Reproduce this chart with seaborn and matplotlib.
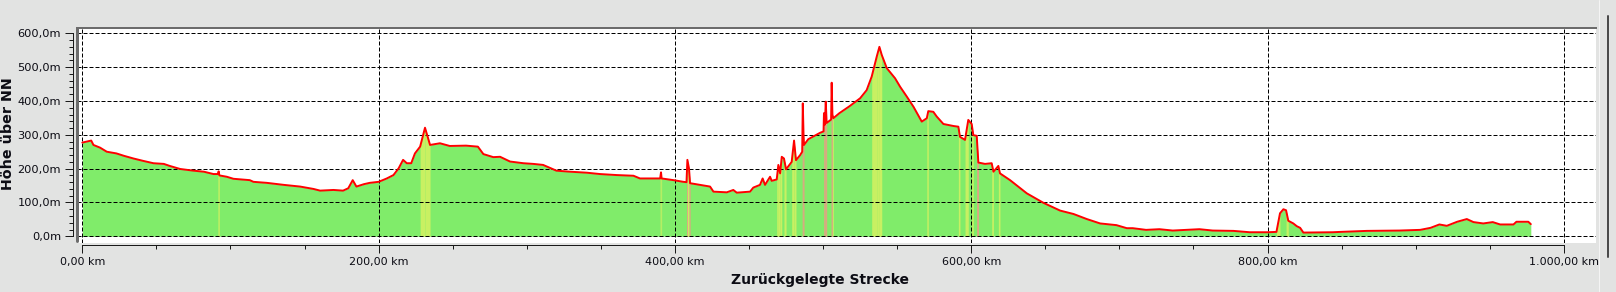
import numpy as np
import pandas as pd
import matplotlib
matplotlib.use("Agg")
import matplotlib.pyplot as plt
import seaborn as sns
from matplotlib.ticker import FixedLocator, MultipleLocator
from matplotlib.lines import Line2D

# ---------------- data ----------------
km = [0, 1, 6, 7.5, 12, 16.5, 23, 28, 34.5, 41, 48, 55, 59, 66, 75, 82, 88.5,
      91.5, 92, 92.5, 97.5, 102, 113, 115.5, 124.5, 136, 147, 156, 160.5,
      169.5, 176, 179.5, 182.5, 185, 190, 194, 200, 205.5, 210, 213.5, 216.5,
      219, 222, 224.5, 228, 231.3, 234.7, 241.4, 248, 259, 267, 270.7, 277.4,
      282, 288.7, 297.7, 304.4, 311, 320, 329, 340.5, 349.4, 360.7, 372,
      376.4, 390, 390.6, 391, 399, 405.7, 407.8, 408.4, 409.5, 410.2, 417,
      423.7, 426, 435, 439.4, 441.7, 450.7, 452.9, 457.4, 459.2, 460.8, 464.2,
      465.3, 468.7, 469.8, 471, 472.1, 473.6, 475, 478.8, 480.4, 481.7, 484.5,
      485.9, 486.3, 486.8, 487.1, 490, 498, 500.3, 500.6, 501.2, 501.8, 502.4,
      503.6, 505.4, 505.8, 506.3, 506.9, 511, 518, 525, 529.4, 532.8, 536.2,
      538, 539.6, 543, 548.6, 552, 556.5, 561, 566.6, 570, 571, 574.4, 576.7,
      581.2, 588, 591.3, 592.4, 595.8, 598, 600.3, 601.4, 603.7, 604.8, 609.3,
      613.8, 615, 618.3, 619.4, 626.2, 637.5, 648.7, 660, 669, 678, 687, 698,
      705, 709, 718, 727, 736, 745, 754, 763, 777, 788, 800, 806, 808.4,
      810.7, 812.5, 814, 817.4, 819.7, 822, 824.2, 844, 849, 867, 889, 903,
      910, 916, 921, 928, 934.5, 939, 945.6, 952, 957, 966, 968, 976, 977.7]

elev = [277, 278, 283, 270, 262, 250, 245, 238, 230, 223, 216, 214, 208, 199,
        194, 191, 184,
        184, 192, 180, 176, 170, 166, 161, 158, 152, 147, 140, 135,
        137, 135, 142, 166, 147, 154, 158, 161, 171, 181, 201, 226,
        216, 216, 245, 265, 321, 270, 275, 267, 268, 265, 243, 234,
        235, 221, 216, 214, 211, 194, 191, 188, 184, 181, 179,
        171, 171, 189, 171, 166, 161, 160, 226, 200, 157, 152,
        147, 132, 130, 137, 129, 132, 144, 152, 171, 152, 176,
        164, 168, 211, 186, 235, 230, 198, 220, 283, 225, 240,
        250, 393, 300, 270, 287, 306, 310, 364, 330, 398, 335,
        339, 345, 454, 360, 349, 364, 385, 408, 432, 472, 531,
        560, 536, 497, 467, 442, 413, 383, 339, 349, 370, 368, 354,
        332, 326, 324, 294, 285, 344, 332, 299, 297, 218, 214,
        216, 191, 208, 186, 166, 127, 99, 76, 66, 51, 38, 33,
        24, 24, 19, 21, 17, 19, 21, 17, 16, 12, 12, 13, 68,
        80, 77, 46, 38, 30, 25, 11, 12, 13, 16, 17, 19,
        25, 35, 31, 43, 51, 42, 38, 42, 35, 35, 43, 43, 36]

x_ticks = [0, 200, 400, 600, 800, 1000]
x_tick_labels = ["0,00 km", "200,00 km", "400,00 km", "600,00 km",
                 "800,00 km", "1.000,00 km"]
y_ticks = [0, 100, 200, 300, 400, 500, 600]
y_tick_labels = ["0,0m", "100,0m", "200,0m", "300,0m", "400,0m", "500,0m",
                 "600,0m"]
x_label = "Zurückgelegte Strecke"
y_label = "Höhe über NN"

# ---------------- style ----------------
sns.set_theme(style="white")
plt.rcParams["font.family"] = ["DejaVu Sans"]

W, H = 1616, 292
PX = 0.72  # points per pixel at 100 dpi
fig = plt.figure(figsize=(W / 100, H / 100), dpi=100, facecolor="#e2e3e2")

L, R, T, B = 77, 1596, 28, 243
ax = fig.add_axes([L / W, (H - B) / H, (R - L) / W, (B - T) / H])
ax.set_facecolor("white")

df = pd.DataFrame({"km": km, "elev": elev})

# area fill
ax.fill_between(df["km"], 0, df["elev"], color="#80ec6a", lw=0, zorder=1)

# slope coloured streaks
kma = np.asarray(km, dtype=float)
ela = np.asarray(elev, dtype=float)
slope = np.abs(np.diff(ela) / np.diff(kma))
for i, s in enumerate(slope):
    if s > 50:
        c = "#ec9c86"
    elif s > 14:
        c = "#c8f062"
    else:
        continue
    ax.fill_between(kma[i:i + 2], 0, ela[i:i + 2], color=c, lw=0, zorder=1.5)

# grid (dashed, above the fill)
dash = (0, (4, 2))
for yt in y_ticks:
    ax.axhline(yt, color="black", lw=PX, ls=dash, zorder=3)
for xt in x_ticks:
    ax.axvline(xt, color="black", lw=PX, ls=dash, zorder=3)

# profile line
sns.lineplot(data=df, x="km", y="elev", ax=ax, color="#ff0000", lw=1.4,
             estimator=None, sort=False, zorder=4)

ax.set_xlim(-3.6, 1021.7)
ax.set_ylim(-19.8, 615.7)

# spines / axes
ax.spines["right"].set_visible(False)
ax.spines["top"].set_color("#6c6c6c")
ax.spines["top"].set_linewidth(2 * PX)
ax.spines["left"].set_position(("outward", 3.7 * PX))
ax.spines["left"].set_bounds(0, 600)
ax.spines["left"].set_color("#1a1a1a")
ax.spines["left"].set_linewidth(PX)
ax.spines["bottom"].set_position(("outward", 2.2 * PX))
ax.spines["bottom"].set_bounds(0, 1000)
ax.spines["bottom"].set_color("#1a1a1a")
ax.spines["bottom"].set_linewidth(PX)

ax.xaxis.set_major_locator(FixedLocator(x_ticks))
ax.set_xticklabels(x_tick_labels)
ax.xaxis.set_minor_locator(MultipleLocator(50))
ax.yaxis.set_major_locator(FixedLocator(y_ticks))
ax.set_yticklabels(y_tick_labels)
ax.yaxis.set_minor_locator(MultipleLocator(20))

ax.tick_params(axis="x", which="major", bottom=True, direction="out",
               length=8 * PX, width=PX, color="#1a1a1a", labelsize=8,
               labelcolor="#0c0c14", pad=3)
ax.tick_params(axis="x", which="minor", bottom=True, direction="out",
               length=4 * PX, width=PX, color="#1a1a1a")
ax.tick_params(axis="y", which="major", left=True, direction="out",
               length=8 * PX, width=PX, color="#1a1a1a", labelsize=8.2,
               labelcolor="#0c0c14", pad=3)
ax.tick_params(axis="y", which="minor", left=True, direction="out",
               length=4 * PX, width=PX, color="#1a1a1a")
ax.set_xlabel("")
ax.set_ylabel("")

# grey frame on the left of the plot area
ax.add_line(Line2D([0, 0], [0.01, 1], transform=ax.transAxes,
                   color="#6c6c6c", lw=3 * PX, clip_on=False, zorder=5))

# axis titles
fig.text(820 / W, (H - 280) / H, x_label, ha="center", va="center",
         fontsize=10, fontweight="bold", color="#0c0c14")
fig.text(8 / W, (H - 134) / H, y_label, ha="center", va="center",
         rotation=90, fontsize=10.3, fontweight="bold", color="#0c0c14")

# window decoration on the right (separator + scrollbar)
fig.add_artist(Line2D([1598.5 / W] * 2, [0, 1], transform=fig.transFigure,
                      color="#f4f4f4", lw=1 * PX))
fig.add_artist(Line2D([1607.5 / W] * 2, [(H - 257) / H, (H - 16) / H],
                      transform=fig.transFigure, color="#4a4a4a", lw=2 * PX))

fig.savefig("out.png", dpi=100, facecolor=fig.get_facecolor())
